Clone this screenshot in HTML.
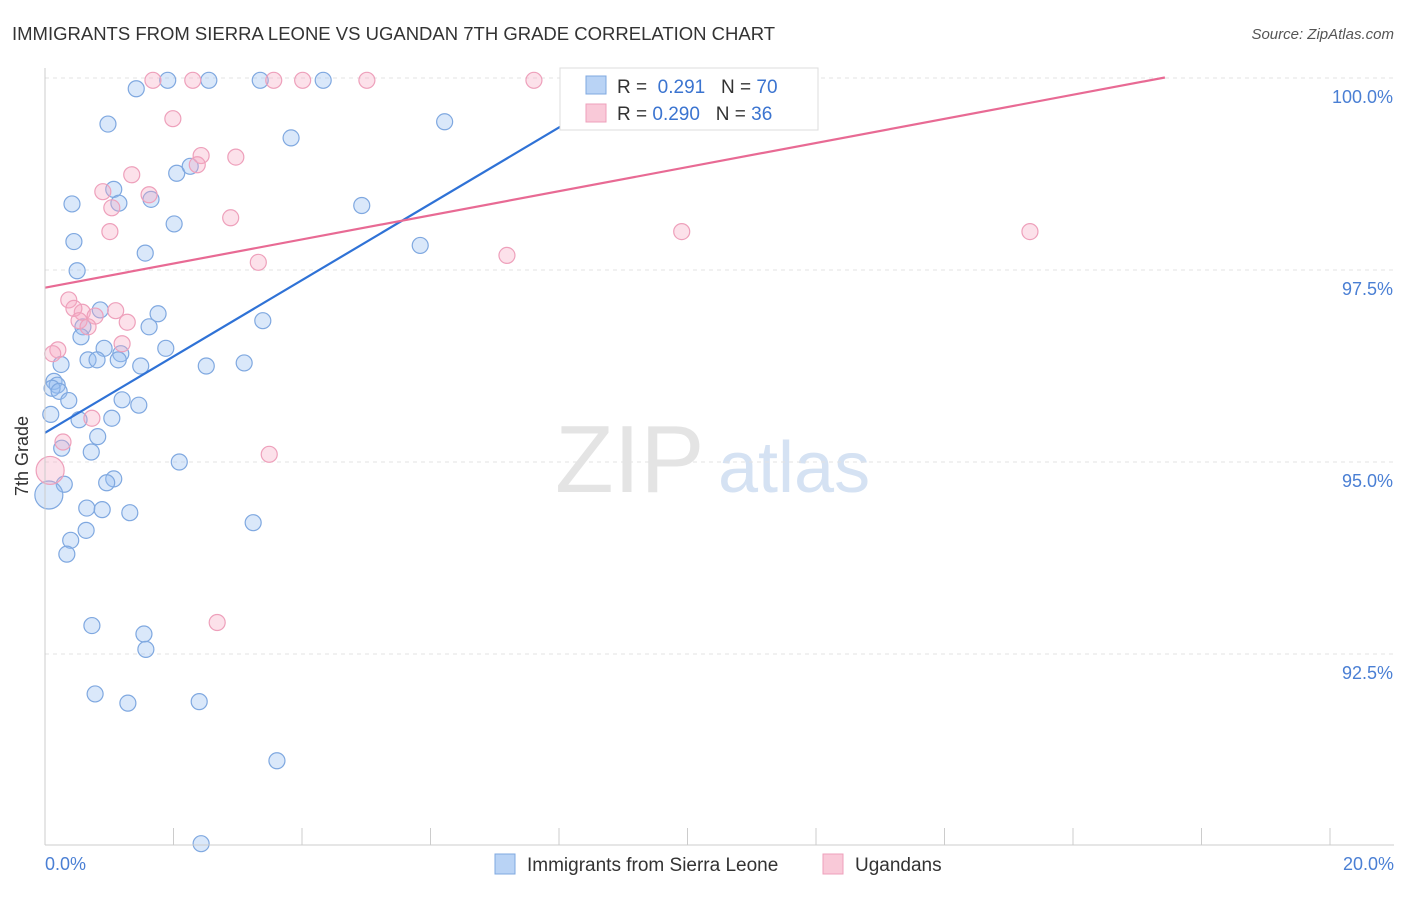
<!DOCTYPE html>
<html><head><meta charset="utf-8"><style>
body{margin:0;background:#fff;font-family:"Liberation Sans",sans-serif;}
svg text{font-family:"Liberation Sans",sans-serif;}
</style></head><body>
<svg id="chart" width="1406" height="892" xmlns="http://www.w3.org/2000/svg">
<text x="12" y="40" font-size="18.5" fill="#333">IMMIGRANTS FROM SIERRA LEONE VS UGANDAN 7TH GRADE CORRELATION CHART</text>
<text x="1394" y="39" font-size="15" fill="#555" text-anchor="end" font-style="italic">Source: ZipAtlas.com</text>
<text x="555" y="492" font-size="96" fill="#e4e4e4" font-family="Liberation Serif">ZIP</text>
<text x="718" y="492" font-size="72" fill="#d5e2f3">atlas</text>
<g id="grid"></g><g id="pts"></g><g id="lines"></g>
<line x1="45" y1="68" x2="45" y2="845" stroke="#ccc"/>
<line x1="45" y1="845" x2="1394" y2="845" stroke="#ccc"/>
<text x="28" y="456" font-size="18" fill="#333" text-anchor="middle" transform="rotate(-90 28 456)">7th Grade</text>
<text x="45" y="870" font-size="18" fill="#4a7fd4">0.0%</text>
<text x="1394" y="870" font-size="18" fill="#4a7fd4" text-anchor="end">20.0%</text>
<g>
<rect x="560" y="68" width="258" height="62" fill="#fff" stroke="#ddd"/>
<rect x="586" y="76" width="20" height="18" fill="#b9d3f5" stroke="#7fa8e0"/>
<rect x="586" y="104" width="20" height="18" fill="#f9c9d8" stroke="#eea0bb"/>
<text x="617" y="93" font-size="19" fill="#333">R = <tspan fill="#3b74d0">&#160;0.291</tspan>&#160;&#160;&#160;N = <tspan fill="#3b74d0">70</tspan></text>
<text x="617" y="120" font-size="19" fill="#333">R = <tspan fill="#3b74d0">0.290</tspan>&#160;&#160;&#160;N = <tspan fill="#3b74d0">36</tspan></text>
</g>
<g>
<rect x="495" y="854" width="20" height="20" fill="#b9d3f5" stroke="#7fa8e0"/>
<text x="527" y="871" font-size="19" fill="#333">Immigrants from Sierra Leone</text>
<rect x="823" y="854" width="20" height="20" fill="#f9c9d8" stroke="#eea0bb"/>
<text x="855" y="871" font-size="19" fill="#333">Ugandans</text>
</g>
</svg>
<script>
const yTicks=[100,97.5,95,92.5];
const yTickLabels=["100.0%","97.5%","95.0%","92.5%"];
const xTicks=[0,2,4,6,8,10,12,14,16,18,20];
const blueX=[1.42,1.91,2.55,3.35,4.33,0.98,3.83,6.22,0.42,1.07,1.15,1.65,2.05,2.26,2.01,4.93,5.84,0.45,1.56,0.50,1.76,0.86,1.62,3.39,0.59,0.56,0.92,1.88,1.18,0.67,0.81,1.14,1.49,2.51,3.10,0.25,0.14,0.19,0.11,0.22,0.37,1.20,1.46,0.09,0.53,1.04,0.82,0.26,0.72,2.09,1.07,0.96,0.30,0.06,0.65,0.89,1.32,3.24,0.64,0.40,0.34,0.73,1.54,1.57,0.78,1.29,2.40,3.61,2.43];
const blueY=[99.86,99.97,99.97,99.97,99.97,99.40,99.22,99.43,98.36,98.55,98.37,98.42,98.76,98.85,98.10,98.34,97.82,97.87,97.72,97.49,96.93,96.98,96.76,96.84,96.76,96.63,96.48,96.48,96.41,96.33,96.33,96.33,96.25,96.25,96.29,96.27,96.05,96.00,95.96,95.92,95.80,95.81,95.74,95.62,95.55,95.57,95.33,95.18,95.13,95.00,94.78,94.73,94.71,94.57,94.40,94.38,94.34,94.21,94.11,93.98,93.80,92.87,92.76,92.56,91.98,91.86,91.88,91.11,90.03];
const pinkX=[1.68,2.30,3.56,4.01,5.01,7.61,1.99,2.43,2.97,2.37,1.35,0.90,1.62,1.04,2.89,1.01,9.91,15.33,3.32,7.19,0.37,0.58,0.45,1.10,0.78,0.53,1.28,0.67,1.20,0.20,0.12,0.73,0.28,3.49,0.08,2.68];
const pinkY=[99.97,99.97,99.97,99.97,99.97,99.97,99.47,98.99,98.97,98.87,98.74,98.52,98.48,98.31,98.18,98.00,98.00,98.00,97.60,97.69,97.11,96.95,97.00,96.97,96.90,96.84,96.82,96.76,96.54,96.46,96.41,95.57,95.26,95.10,94.89,92.91];
const blueBig=[53], pinkBig=[34];
const blueFit=[95.38,0.497], pinkFit=[97.27,0.157];
const X=v=>45+v*64.25, Y=v=>78+(100-v)*76.8;
const NS="http://www.w3.org/2000/svg";
const g=document.getElementById('grid');
yTicks.forEach((t,i)=>{
 const l=document.createElementNS(NS,'line');
 
 
 l.setAttribute('x1',45);l.setAttribute('x2',1394);l.setAttribute('y1',Y(t));l.setAttribute('y2',Y(t));
 l.setAttribute('stroke','#e3e3e3');l.setAttribute('stroke-dasharray','4,4');g.appendChild(l);
 const tx=document.createElementNS(NS,'text');
 
 
 tx.setAttribute('x',1393);tx.setAttribute('y',Y(t)+25);tx.setAttribute('text-anchor','end');
 tx.setAttribute('font-size','18');tx.setAttribute('fill','#4a7fd4');tx.textContent=yTickLabels[i];g.appendChild(tx);
});
xTicks.forEach(t=>{
 const l=document.createElementNS(NS,'line');
 
 
 l.setAttribute('x1',X(t));l.setAttribute('x2',X(t));l.setAttribute('y1',828);l.setAttribute('y2',845);
 l.setAttribute('stroke','#ccc');g.appendChild(l);
});
const p=document.getElementById('pts');
function dots(xs,ys,big,fill,stroke,name){
 xs.forEach((v,i)=>{
  const c=document.createElementNS(NS,'circle');
  
  
  c.setAttribute('cx',X(v));c.setAttribute('cy',Y(ys[i]));c.setAttribute('r',big.includes(i)?14:8);
  c.setAttribute('fill',fill);c.setAttribute('stroke',stroke);c.setAttribute('stroke-width','1.2');p.appendChild(c);
 });
}
dots(blueX,blueY,blueBig,'rgba(150,190,240,0.35)','#7fa8e0','point-sierra-leone');
dots(pinkX,pinkY,pinkBig,'rgba(245,170,195,0.35)','#eea0bb','point-ugandans');
const L=document.getElementById('lines');
function fit(f,x1,x2,col,name){
 const l=document.createElementNS(NS,'line');
 
 
 l.setAttribute('x1',X(x1));l.setAttribute('y1',Y(f[0]+f[1]*x1));
 l.setAttribute('x2',X(x2));l.setAttribute('y2',Y(f[0]+f[1]*x2));
 l.setAttribute('stroke',col);l.setAttribute('stroke-width','2.2');L.appendChild(l);
}
fit(blueFit,0,8.25,'#2f72d6','trend-line-sierra-leone');
fit(pinkFit,0,17.43,'#e86a94','trend-line-ugandans');
</script>
</body></html>
